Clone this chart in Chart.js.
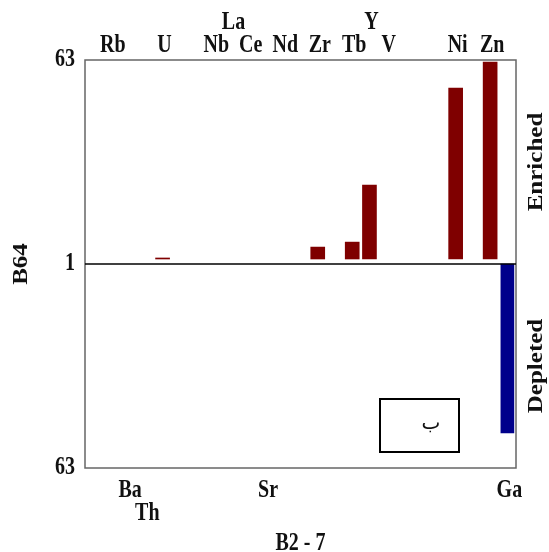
<!DOCTYPE html>
<html>
<head>
<meta charset="utf-8">
<script src="https://cdn.jsdelivr.net/npm/chart.js@4.4.0/dist/chart.umd.min.js"></script>
<style>
  html, body { margin: 0; padding: 0; background: #fff; }
  #wrap { width: 549px; height: 552px; }
</style>
</head>
<body>
<div id="wrap"><canvas id="spiderChart"></canvas></div>
<script>
// Elements in plotting order and their slot on the x axis (gaps are unplotted elements)
const elements = ['Rb', 'Ba', 'Th', 'U', 'Nb', 'La', 'Ce', 'Sr', 'Nd', 'Zr', 'Tb', 'Y', 'V', 'Ni', 'Zn', 'Ga'];
const slots    = [0, 1, 2, 3, 6, 7, 8, 9, 10, 12, 14, 15, 16, 20, 22, 23];

// Enrichment / depletion factors relative to the reference (null = no bar)
const enrichedFactor = [null, null, null, 1.13, null, null, null, null, null, 1.41, 1.56, 4.97, null, 35.7, 60.5, null];
const depletedFactor = [null, null, null, null, null, null, null, null, null, null, null, null, null, null, null, 30.9];
const enrichedBase = 1.107;   // red bars start just above the 1 line

// Axis ends and titles
const axisMax = 63;
const yTickLabels = ['63', '1', '63'];
const xTitle = 'B2 - 7';
const yTitle = 'B64';
const sideLabels = ['Enriched', 'Depleted'];
const panelTag = 'ب';

// Where each element name sits: t = above frame, t2 = second row above, b = below, b2 = second row below
const labelRow = ['t', 'b', 'b2', 't', 't', 't2', 't', 'b', 't', 't', 't', 't2', 't', 't', 't', 'b'];

// log scale folded around 1: +1 = 63x enriched, -1 = 63x depleted
const lf = v => Math.log(v) / Math.log(axisMax);

const redData = [];
const blueData = [];
elements.forEach((el, i) => {
    if (enrichedFactor[i] != null) redData.push({ x: slots[i], y: [lf(enrichedBase), lf(enrichedFactor[i])] });
    if (depletedFactor[i] != null) blueData.push({ x: slots[i], y: [0, -lf(depletedFactor[i])] });
});

const FONT = 'bold 20px "Liberation Serif", "Times New Roman", serif';
const STRETCH = 1.25;

function stretchedText(ctx, text, x, y, align, rotate) {
    ctx.save();
    ctx.translate(x, y);
    ctx.scale(1, STRETCH);
    if (rotate) ctx.rotate(-Math.PI / 2);
    ctx.textAlign = align;
    ctx.fillText(text, 0, 0);
    ctx.restore();
}

const decorations = {
    id: 'decorations',
    afterDatasetsDraw(chart) {
        const ctx = chart.ctx;
        const a = chart.chartArea;
        const xs = chart.scales.x;
        const ys = chart.scales.y;

        // frame
        ctx.save();
        ctx.strokeStyle = '#666';
        ctx.lineWidth = 1.5;
        ctx.strokeRect(a.left, a.top, a.right - a.left, a.bottom - a.top);

        // the "1" line
        const y0 = ys.getPixelForValue(0);
        ctx.strokeStyle = '#000';
        ctx.beginPath();
        ctx.moveTo(a.left, y0);
        ctx.lineTo(a.right, y0);
        ctx.stroke();

        ctx.fillStyle = '#111';
        ctx.font = FONT;
        ctx.textBaseline = 'alphabetic';

        // element names
        const rowY = { t: a.top - 8, t2: a.top - 31, b: a.bottom + 29, b2: a.bottom + 52 };
        elements.forEach((el, i) => {
            stretchedText(ctx, el, xs.getPixelForValue(slots[i]) + 2, rowY[labelRow[i]], 'center');
        });

        // y ticks
        [1, 0, -1].forEach((v, i) => {
            stretchedText(ctx, yTickLabels[i], a.left - 10, ys.getPixelForValue(v) + 6, 'right');
        });

        // axis titles
        stretchedText(ctx, xTitle, (a.left + a.right) / 2, a.bottom + 82, 'center');
        ctx.textBaseline = 'middle';
        stretchedText(ctx, yTitle, 22, (a.top + a.bottom) / 2, 'center', true);
        stretchedText(ctx, sideLabels[0], a.right + 21, (a.top + y0) / 2, 'center', true);
        stretchedText(ctx, sideLabels[1], a.right + 21, (y0 + a.bottom) / 2, 'center', true);

        // panel tag box
        ctx.strokeStyle = '#000';
        ctx.lineWidth = 2;
        ctx.strokeRect(380, 399, 79, 53);
        ctx.font = '20px "DejaVu Sans", sans-serif';
        ctx.textAlign = 'center';
        ctx.fillText(panelTag, 431, 424);
        ctx.restore();
    }
};

const ctxSpider = document.getElementById('spiderChart').getContext('2d');
const spiderChart = new Chart(ctxSpider, {
    type: 'bar',
    data: {
        datasets: [{
            label: 'Enriched',
            data: redData,
            backgroundColor: '#7f0000',
            grouped: false,
            barThickness: 14
        }, {
            label: 'Depleted',
            data: blueData,
            backgroundColor: '#00008b',
            grouped: false,
            barThickness: 13
        }]
    },
    options: {
        responsive: true,
        maintainAspectRatio: false,
        animation: false,
        layout: { padding: { left: 85, right: 33, top: 60, bottom: 84 } },
        plugins: {
            legend: { display: false },
            tooltip: { enabled: false }
        },
        scales: {
            x: { type: 'linear', min: -1.5, max: 23.5, offset: false, display: false },
            y: { type: 'linear', min: -1, max: 1, display: false }
        }
    },
    plugins: [decorations]
});
</script>
</body>
</html>
